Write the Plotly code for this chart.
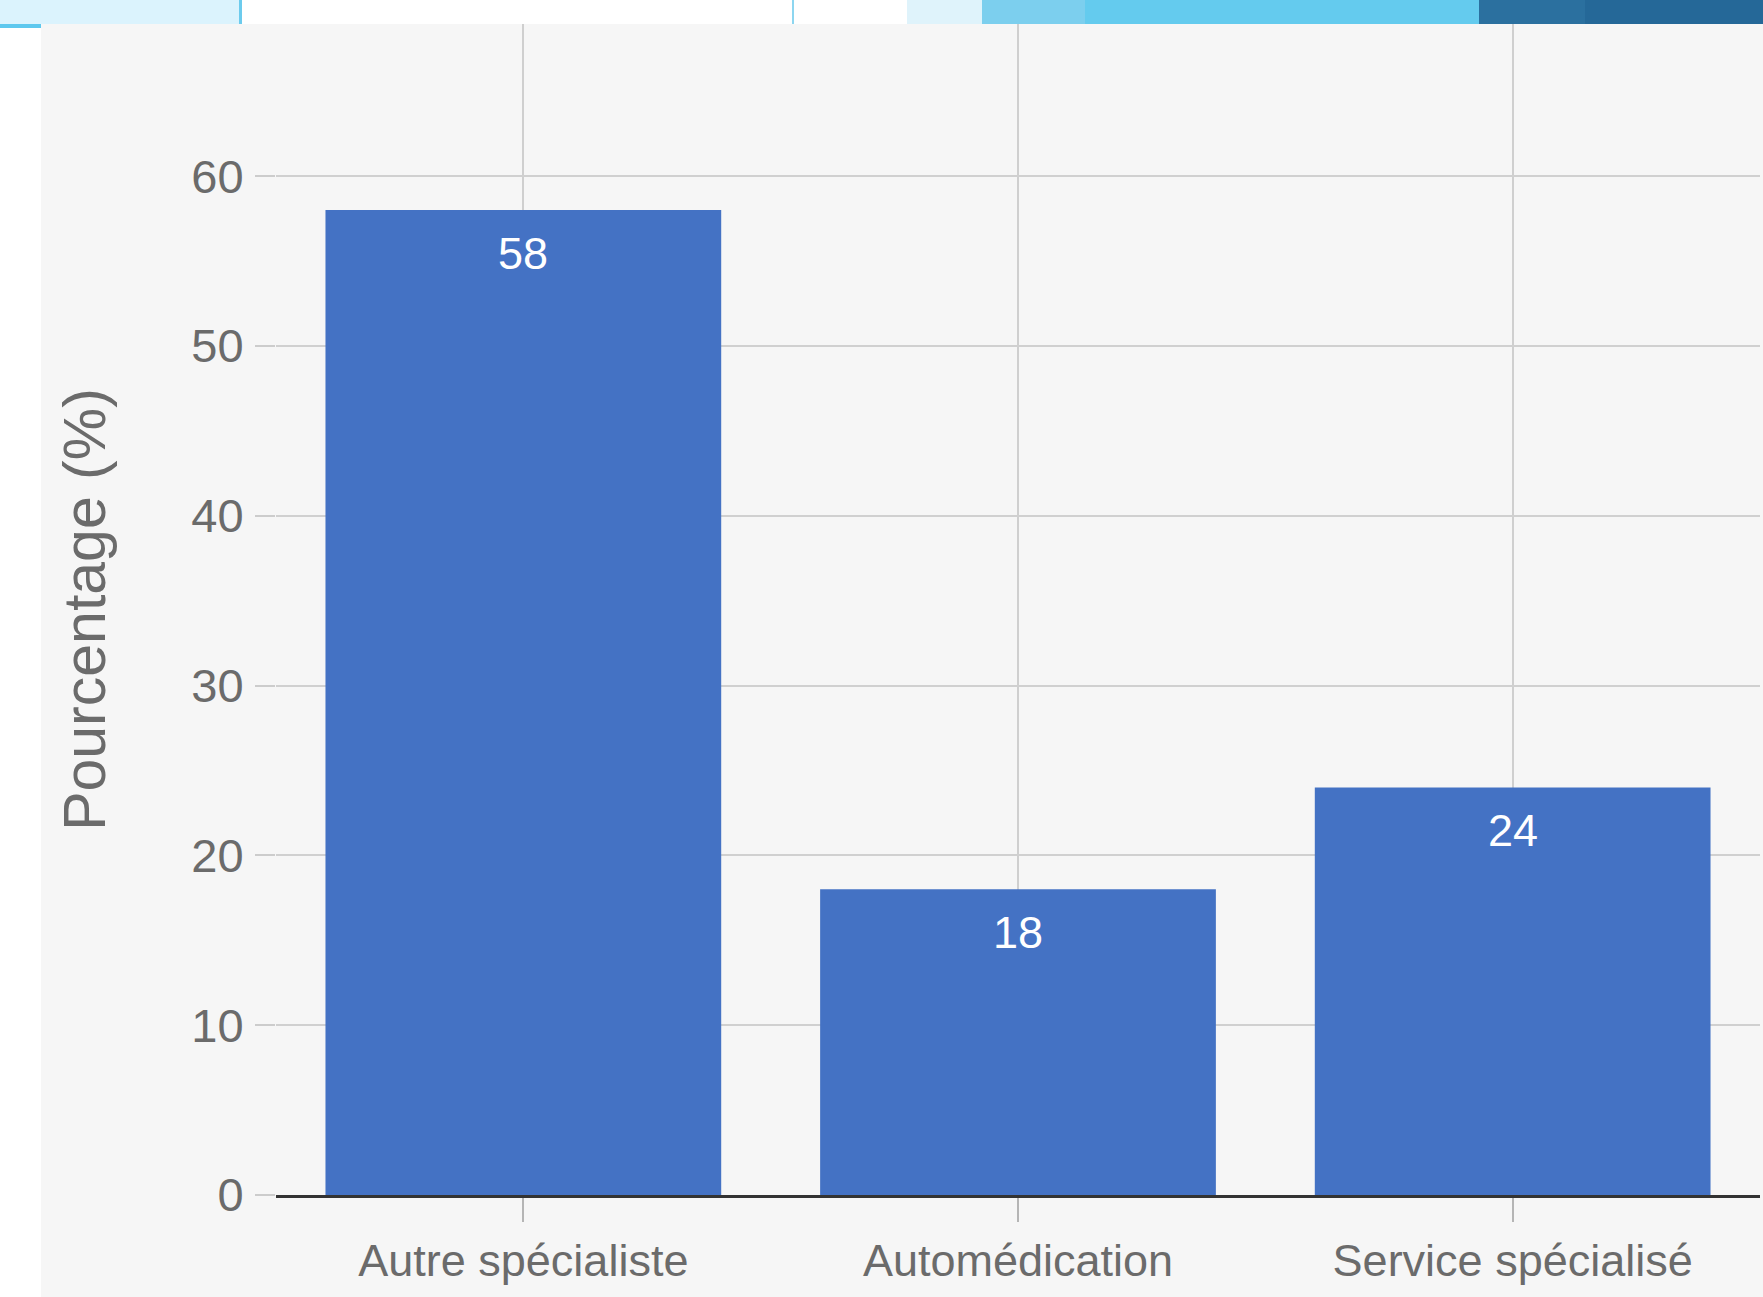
import plotly.graph_objects as go

categories = ["Autre spécialiste", "Automédication", "Service spécialisé"]
values = [58, 18, 24]
y_ticks = [0, 10, 20, 30, 40, 50, 60]
y_title = "Pourcentage (%)"

W, H = 1763, 1297
L, R, T, B = 276, 3, 24, 102
PW, PH = W - L - R, H - T - B

def px_x(p):
    return (p - L) / PW

def px_y(p):
    return (H - B - p) / PH

FONT = "Liberation Sans, Arial, sans-serif"
BAR = "#4472c4"
PANEL = "#f6f6f6"

fig = go.Figure()
fig.add_trace(go.Bar(x=categories, y=values, marker=dict(color=BAR, line=dict(width=0)),
                     hoverinfo="x+y"))

for c, v in zip(categories, values):
    fig.add_annotation(x=c, y=v, text=str(v), showarrow=False, yanchor="top", yshift=-16,
                       font=dict(family=FONT, size=45, color="white"))

shapes = []
# grey panel
shapes.append(dict(type="rect", xref="paper", yref="paper", x0=px_x(41), x1=px_x(W + 5),
                   y0=px_y(T), y1=px_y(H + 5), fillcolor=PANEL, line=dict(width=0), layer="below"))
# top decorative band
band = [
    (0, 239, "#dbf3fd"), (239, 242, "#6ccbed"), (242, 792, "#ffffff"), (792, 794, "#8dd6f0"),
    (794, 907, "#ffffff"), (907, 982, "#dff3fb"), (982, 1085, "#7ccfee"), (1085, 1479, "#64cbee"),
    (1479, 1585, "#2b709f"), (1585, W + 5, "#256898"),
]
for x0, x1, col in band:
    shapes.append(dict(type="rect", xref="paper", yref="paper", x0=px_x(x0), x1=px_x(x1),
                       y0=px_y(T), y1=px_y(-5), fillcolor=col, line=dict(width=0), layer="above"))
shapes.append(dict(type="rect", xref="paper", yref="paper", x0=px_x(-5), x1=px_x(41),
                   y0=px_y(28), y1=px_y(T), fillcolor="#5ec8ee", line=dict(width=0), layer="above"))

fig.update_layout(
    width=W, height=H,
    margin=dict(l=L, r=R, t=T, b=B, pad=0),
    paper_bgcolor="white", plot_bgcolor=PANEL,
    showlegend=False, bargap=0.2,
    shapes=shapes,
    font=dict(family=FONT, color="#666666"),
    xaxis=dict(
        type="category", range=[-0.5, 2.5],
        showgrid=True, gridcolor="#cfcfcf", gridwidth=2,
        showline=True, linecolor="#333333", linewidth=3,
        ticks="outside", ticklen=24, tickwidth=2, tickcolor="#b5b5b5",
        tickfont=dict(family=FONT, size=45, color="#6b6b6b"),
    ),
    yaxis=dict(
        range=[0, 68.96], tickvals=y_ticks,
        showgrid=True, gridcolor="#d0d0d0", gridwidth=2, zeroline=False,
        ticks="outside", ticklen=20, tickwidth=2, tickcolor="#cccccc",
        ticklabelstandoff=2,
        tickfont=dict(family=FONT, size=47, color="#6b6b6b"),
        title=dict(text=y_title, font=dict(family=FONT, size=59, color="#6b6b6b"), standoff=66),
    ),
)

fig.write_html("out.html", config={"displayModeBar": False},
               post_script="document.body.style.margin='0';document.body.style.padding='0';")
